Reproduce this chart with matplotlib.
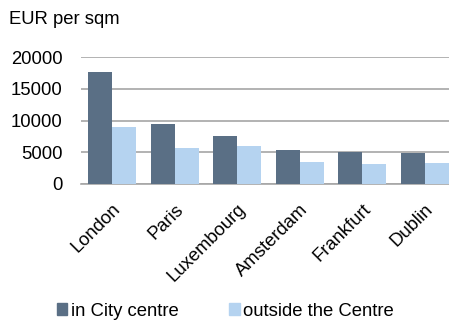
import matplotlib
matplotlib.use("Agg")
import matplotlib.pyplot as plt
from matplotlib.patches import Patch
import numpy as np

# office rents by city, EUR per sqm
cities = ["London", "Paris", "Luxembourg", "Amsterdam", "Frankfurt", "Dublin"]
city_centre = [17700, 9400, 7500, 5350, 5000, 4950]
outside_centre = [9000, 5700, 6000, 3450, 3200, 3350]
series_names = ["in City centre", "outside the Centre"]

dark = "#5a6f85"
light = "#b5d3f0"
fs = 13.3

plt.rcParams["font.family"] = ["Liberation Sans", "DejaVu Sans"]

fig = plt.figure(figsize=(4.49, 3.22), dpi=100)
ax = fig.add_axes([81 / 449, 138 / 322, 375 / 449, 127 / 322])

x = np.arange(len(cities))
w = 24 / 62.5
ax.bar(x - w / 2, city_centre, width=w, color=dark, zorder=3)
ax.bar(x + w / 2, outside_centre, width=w, color=light, zorder=3)

ax.set_xlim(-0.5, len(cities) - 0.5)
ax.set_ylim(0, 20000)
ax.set_yticks([0, 5000, 10000, 15000, 20000])
ax.yaxis.grid(True, color="#a6a6a6", linewidth=1.2, zorder=0)
ax.tick_params(axis="y", length=0, pad=13.5, labelsize=fs)
ax.tick_params(axis="x", length=0, pad=12, labelsize=fs)

ax.set_xticks(x)
ax.set_xticklabels(cities, rotation=45, ha="right", rotation_mode="anchor")

for side in ["left", "right", "top"]:
    ax.spines[side].set_visible(False)
ax.spines["bottom"].set_color("#a6a6a6")
ax.spines["bottom"].set_linewidth(1.2)

fig.text(9 / 449, 1 - 20 / 322, "EUR per sqm", fontsize=fs, va="center", ha="left")

handles = [Patch(color=dark), Patch(color=light)]
fig.legend(handles, series_names, loc="center left",
           bbox_to_anchor=(57 / 449, 1 - 311 / 322), ncol=2, frameon=False,
           fontsize=fs, handlelength=0.55, handleheight=0.55, handletextpad=0.2,
           columnspacing=2.75, borderpad=0, borderaxespad=0)

fig.savefig("out.png", dpi=100)
